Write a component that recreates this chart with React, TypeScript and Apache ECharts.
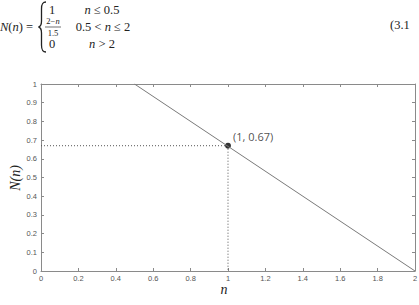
import React, { useEffect, useRef } from 'react';
import * as echarts from 'echarts';

// Data
const curveX = [0.5, 2];
const curveY = [1, 0];
const markerX = 1;
const markerY = 0.67;
const markerLabel = '(1, 0.67)';
const xMin = 0, xMax = 2, xStep = 0.2;
const yMin = 0, yMax = 1, yStep = 0.1;

const AXIS = '#8a8a8a';
const LABEL = '#555';

const fmt = (v: number) => String(Number(v.toFixed(2)));

export default function App() {
  const ref = useRef<HTMLDivElement>(null);
  useEffect(() => {
    if (!ref.current) return;
    echarts.graphic.registerShape(
      'brace',
      echarts.graphic.extendPath(
        'M46 2 C42.5 2 41.5 4 41.5 9 L41.5 21 C41.5 25 40.5 26.5 38.5 27 C40.5 27.5 41.5 29 41.5 33 L41.5 45 C41.5 50 42.5 52 46 52',
        {}
      )
    );
    const chart = echarts.init(ref.current, undefined, { renderer: 'svg' });
    const serif = 'Liberation Serif';
    const eqText = (x: number, y: number, text: string, size = 12.5, align = 'center') => ({
      type: 'text',
      x,
      y,
      style: {
        text,
        fontSize: size,
        fontFamily: serif,
        fill: '#222',
        align,
        verticalAlign: 'middle',
        rich: { i: { fontStyle: 'italic', fontSize: size, fontFamily: serif, fill: '#222' } },
      },
    });
    const xAxisBase = {
      type: 'value',
      min: xMin,
      max: xMax,
      interval: xStep,
      axisLine: { show: true, onZero: false, lineStyle: { color: AXIS, width: 1 } },
      axisTick: { show: true, inside: true, length: 3, lineStyle: { color: AXIS } },
      splitLine: { show: false },
    };
    const yAxisBase = {
      type: 'value',
      min: yMin,
      max: yMax,
      interval: yStep,
      axisLine: { show: true, onZero: false, lineStyle: { color: AXIS, width: 1 } },
      axisTick: { show: true, inside: true, length: 3, lineStyle: { color: AXIS } },
      splitLine: { show: false },
    };
    chart.setOption({
      animation: false,
      backgroundColor: '#fff',
      grid: { left: 41, right: 4, top: 84, bottom: 34, containLabel: false, outerBoundsMode: 'none' },
      xAxis: [
        {
          ...xAxisBase,
          position: 'bottom',
          axisLabel: { fontSize: 7.5, color: LABEL, margin: 3, fontFamily: 'Liberation Sans', formatter: fmt },
        },
        { ...xAxisBase, position: 'top', axisLabel: { show: false } },
      ],
      yAxis: [
        {
          ...yAxisBase,
          position: 'left',
          axisLabel: { fontSize: 7.5, color: LABEL, margin: 4, fontFamily: 'Liberation Sans', formatter: fmt },
        },
        { ...yAxisBase, position: 'right', axisLabel: { show: false } },
      ],
      series: [
        {
          type: 'line',
          xAxisIndex: 0,
          yAxisIndex: 0,
          data: curveX.map((x, i) => [x, curveY[i]]),
          showSymbol: false,
          lineStyle: { color: '#7a7a7a', width: 1 },
        },
        {
          type: 'line',
          xAxisIndex: 0,
          yAxisIndex: 0,
          data: [[xMin, markerY], [markerX, markerY]],
          showSymbol: false,
          lineStyle: { color: '#555', width: 1, type: [1, 2] },
        },
        {
          type: 'line',
          xAxisIndex: 0,
          yAxisIndex: 0,
          data: [[markerX, markerY], [markerX, yMin]],
          showSymbol: false,
          lineStyle: { color: '#555', width: 1, type: [1, 2] },
        },
        {
          type: 'scatter',
          xAxisIndex: 0,
          yAxisIndex: 0,
          data: [[markerX, markerY]],
          symbolSize: 6,
          itemStyle: { color: '#000' },
          label: {
            show: true,
            formatter: markerLabel,
            position: 'right',
            distance: 2,
            offset: [0, -9],
            fontSize: 11,
            color: '#222',
            textBorderWidth: 0,
            fontFamily: 'Open Sans',
          },
        },
      ],
      graphic: [
        eqText(0, 27, '{i|N}({i|n}) =', 12.5, 'left'),
        { type: 'brace', x: 0, y: 0, style: { stroke: '#222', fill: 'none', lineWidth: 1.3 } },
        eqText(52, 9.5, '1'),
        eqText(102, 9.5, '{i|n} ≤ 0.5'),
        eqText(53, 21, '2−{i|n}', 8.5),
        { type: 'line', shape: { x1: 45, y1: 27, x2: 61, y2: 27 }, style: { stroke: '#333', lineWidth: 0.7 } },
        eqText(53, 32.5, '1.5', 8.5),
        eqText(103, 27, '0.5 < {i|n} ≤ 2'),
        eqText(52, 43.5, '0'),
        eqText(102, 43.5, '{i|n} > 2'),
        eqText(390, 25, '(3.1', 12.5, 'left'),
        {
          type: 'text',
          x: 15,
          y: 178,
          rotation: Math.PI / 2,
          style: {
            text: 'N(n)',
            fontSize: 14,
            fontFamily: serif,
            fontStyle: 'italic',
            fill: '#222',
            align: 'center',
            verticalAlign: 'middle',
          },
        },
        {
          type: 'text',
          x: 224,
          y: 289,
          style: {
            text: 'n',
            fontSize: 14,
            fontFamily: serif,
            fontStyle: 'italic',
            fill: '#222',
            align: 'center',
            verticalAlign: 'middle',
          },
        },
      ],
    });
    return () => chart.dispose();
  }, []);
  return (
    <div
      ref={ref}
      style={{ position: 'fixed', left: 0, top: 0, width: 419, height: 305, background: '#fff' }}
    />
  );
}
